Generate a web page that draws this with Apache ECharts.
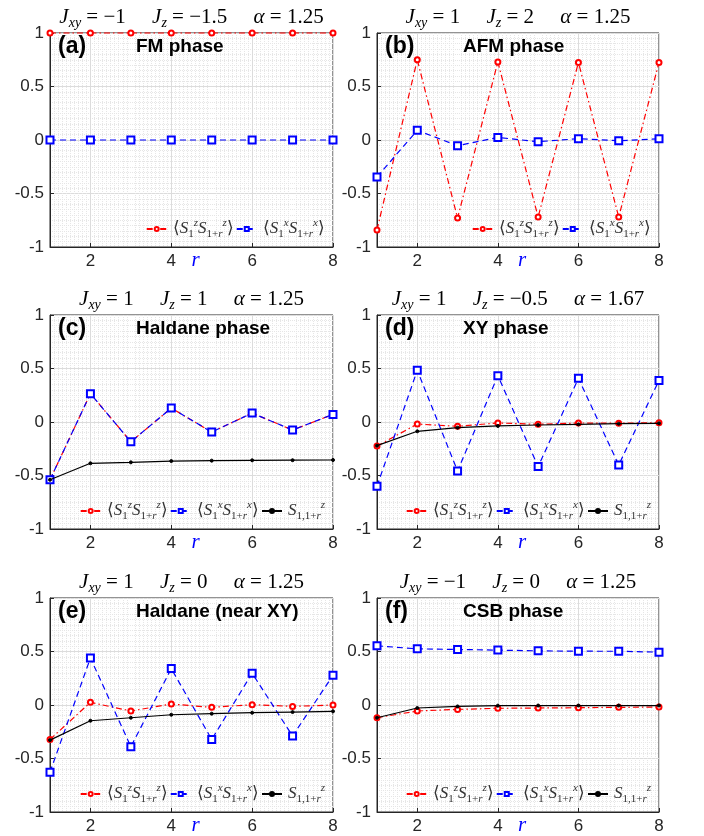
<!DOCTYPE html>
<html>
<head>
<meta charset="utf-8">
<script src="https://cdn.jsdelivr.net/npm/echarts@6/dist/echarts.min.js"></script>
<style>
html,body{margin:0;padding:0;background:#fff;}
#chart{width:704px;height:836px;}
</style>
</head>
<body>
<div id="chart"></div>
<script>
// ---- data ----
const r = [1, 2, 3, 4, 5, 6, 7, 8];
const xTicks = [2, 4, 6, 8];
const aSz = [1, 1, 1, 1, 1, 1, 1, 1];
const aSx = [0, 0, 0, 0, 0, 0, 0, 0];
const bSz = [-0.84, 0.75, -0.73, 0.73, -0.72, 0.725, -0.72, 0.725];
const bSx = [-0.345, 0.09, -0.053, 0.024, -0.016, 0.012, -0.007, 0.011];
const cSz = [-0.54, 0.265, -0.185, 0.13, -0.094, 0.083, -0.075, 0.071];
const cSx = [-0.54, 0.265, -0.185, 0.13, -0.094, 0.083, -0.075, 0.071];
const cSs = [-0.54, -0.386, -0.377, -0.365, -0.361, -0.358, -0.357, -0.355];
const dSz = [-0.225, -0.019, -0.04, -0.009, -0.022, -0.009, -0.012, -0.006];
const dSx = [-0.6, 0.483, -0.458, 0.433, -0.417, 0.408, -0.402, 0.389];
const dSs = [-0.221, -0.087, -0.053, -0.037, -0.028, -0.022, -0.016, -0.012];
const eSz = [-0.322, 0.025, -0.056, 0.009, -0.022, 0.003, -0.013, 0];
const eSx = [-0.628, 0.44, -0.39, 0.34, -0.322, 0.297, -0.29, 0.278];
const eSs = [-0.328, -0.147, -0.119, -0.091, -0.081, -0.072, -0.066, -0.059];
const fSz = [-0.119, -0.056, -0.041, -0.031, -0.028, -0.025, -0.022, -0.019];
const fSx = [0.553, 0.525, 0.519, 0.513, 0.506, 0.503, 0.502, 0.494];
const fSs = [-0.119, -0.028, -0.013, -0.006, -0.005, -0.005, -0.005, -0.005];

const panelLabels = ['(a)', '(b)', '(c)', '(d)', '(e)', '(f)'];
const phaseNames = ['FM phase', 'AFM phase', 'Haldane phase', 'XY phase', 'Haldane (near XY)', 'CSB phase'];
const Jxy = ['\u22121', '1', '1', '1', '1', '\u22121'];
const Jz = ['\u22121.5', '2', '1', '\u22120.5', '0', '0'];
const alpha = ['1.25', '1.25', '1.25', '1.67', '1.25', '1.25'];
const panelSeries = [
  [aSz, aSx], [bSz, bSx], [cSz, cSx, cSs], [dSz, dSx, dSs], [eSz, eSx, eSs], [fSz, fSx, fSs]
];

// ---- layout ----
const colLeft = [50, 377];
const colWidth = [283, 282];
const rowTop = [33, 315, 598];
const plotH = 214;
const W = 704;

const serif = 'Liberation Serif';
const sans = 'Liberation Sans';

const seriesStyles = [
  { name: 'Sz', color: '#ff0000', dash: [6, 3, 1.5, 3], symbol: 'emptyCircle', size: 5 },
  { name: 'Sx', color: '#0000ff', dash: [6, 4], symbol: 'emptyRect', size: 7 },
  { name: 'S', color: '#000000', dash: 'solid', symbol: 'circle', size: 3 }
];

const legendText = {
  Sz: '{t|\u27e8}{i|S}{s|1}{p|z}{i|S}{s|1+}{si|r}{p|z}{t|\u27e9}',
  Sx: '{t|\u27e8}{i|S}{s|1}{p|x}{i|S}{s|1+}{si|r}{p|x}{t|\u27e9}',
  S: '{i|S}{s|1,1+}{si|r}{p|z}'
};
const legendRich = {
  t: { fontFamily: serif, fontSize: 17, color: '#333', lineHeight: 22 },
  i: { fontFamily: serif, fontSize: 17, fontStyle: 'italic', color: '#333', lineHeight: 22 },
  s: { fontFamily: serif, fontSize: 11, color: '#333', lineHeight: 11, verticalAlign: 'bottom' },
  si: { fontFamily: serif, fontSize: 11, fontStyle: 'italic', color: '#333', lineHeight: 11, verticalAlign: 'bottom' },
  p: { fontFamily: serif, fontSize: 11, fontStyle: 'italic', color: '#333', lineHeight: 12, verticalAlign: 'top' }
};

const grids = [], xAxes = [], yAxes = [], series = [], legends = [], graphics = [];

for (let p = 0; p < 6; p++) {
  const col = p % 2, row = Math.floor(p / 2);
  const left = colLeft[col], top = rowTop[row], w = colWidth[col];
  grids.push({
    left: left, top: top, width: w, height: plotH,
    outerBoundsMode: 'none', containLabel: false,
    show: true, backgroundColor: '#ffffff', borderColor: '#262626', borderWidth: 1
  });
  xAxes.push({
    gridIndex: p, type: 'value', min: 1, max: 8, interval: 1,
    name: 'r', nameLocation: 'middle', nameGap: 3, nameMoveOverlap: false,
    nameTextStyle: { color: '#0000ff', fontFamily: serif, fontStyle: 'italic', fontSize: 21, padding: [0, 0, 0, 8] },
    axisLine: { show: true, onZero: false, lineStyle: { color: '#262626', width: 1 } },
    axisTick: { show: true, inside: true, length: 4, customValues: xTicks, lineStyle: { color: '#262626' } },
    axisLabel: { customValues: xTicks, fontFamily: sans, fontSize: 17, color: '#262626', margin: 6 },
    splitLine: { show: true, lineStyle: { color: '#dcdcdc', width: 1 } },
    minorTick: { show: false, splitNumber: 10 },
    minorSplitLine: { show: true, lineStyle: { color: '#e6e6e6', type: 'dotted', width: 1 } }
  });
  yAxes.push({
    gridIndex: p, type: 'value', min: -1, max: 1, interval: 0.5,
    axisLine: { show: true, onZero: false, lineStyle: { color: '#262626', width: 1 } },
    axisTick: { show: true, inside: true, length: 4, lineStyle: { color: '#262626' } },
    axisLabel: { fontFamily: sans, fontSize: 17, color: '#262626', margin: 6 },
    splitLine: { show: true, lineStyle: { color: '#dcdcdc', width: 1 } },
    minorTick: { show: false, splitNumber: 10 },
    minorSplitLine: { show: true, lineStyle: { color: '#e6e6e6', type: 'dotted', width: 1 } }
  });
  const names = [];
  panelSeries[p].forEach((vals, k) => {
    const st = seriesStyles[k];
    names.push(st.name);
    series.push({
      type: 'line', name: st.name, xAxisIndex: p, yAxisIndex: p,
      data: r.map((x, i) => [x, vals[i]]),
      symbol: st.symbol, symbolSize: st.size, showSymbol: true,
      lineStyle: { color: st.color, width: 1.2, type: st.dash },
      itemStyle: { color: st.color, borderColor: st.color, borderWidth: 1 },
      emphasis: { disabled: true }, animation: false, clip: false, z: 3 + k
    });
  });
  legends.push({
    data: names, orient: 'horizontal', padding: 0, itemGap: 2,
    right: W - (left + w - 8), top: top + plotH - 29,
    itemWidth: 20, itemHeight: 5,
    formatter: n => legendText[n],
    textStyle: { rich: legendRich, padding: [0, 0, 0, 1] },
    selectedMode: false
  });
  // title above panel
  graphics.push({
    type: 'text', x: left + w / 2, y: top - 16,
    style: {
      text: '{i|J}{s|xy}{t| = ' + Jxy[p] + '     }{i|J}{s|z}{t| = ' + Jz[p] + '     }{i|\u03b1}{t| = ' + alpha[p] + '}',
      textAlign: 'center', textVerticalAlign: 'middle',
      rich: {
        t: { fontFamily: serif, fontSize: 21, color: '#262626', lineHeight: 26 },
        i: { fontFamily: serif, fontSize: 21, fontStyle: 'italic', color: '#262626', lineHeight: 26 },
        s: { fontFamily: serif, fontSize: 14, fontStyle: 'italic', color: '#262626', lineHeight: 14, verticalAlign: 'bottom' }
      }
    }
  });
  graphics.push({
    type: 'text', x: left + 8, y: top + 14, z: 10,
    style: { text: panelLabels[p], font: 'bold 23px "Liberation Sans"', fill: '#000', textVerticalAlign: 'middle' }
  });
  graphics.push({
    type: 'text', x: left + 86, y: top + 14, z: 10,
    style: { text: phaseNames[p], font: 'bold 19px "Liberation Sans"', fill: '#000', textVerticalAlign: 'middle' }
  });
}

const chart = echarts.init(document.getElementById('chart'), null, { renderer: 'canvas' });
chart.setOption({
  backgroundColor: '#ffffff',
  animation: false,
  grid: grids,
  xAxis: xAxes,
  yAxis: yAxes,
  legend: legends,
  series: series,
  graphic: graphics
});
</script>
</body>
</html>
